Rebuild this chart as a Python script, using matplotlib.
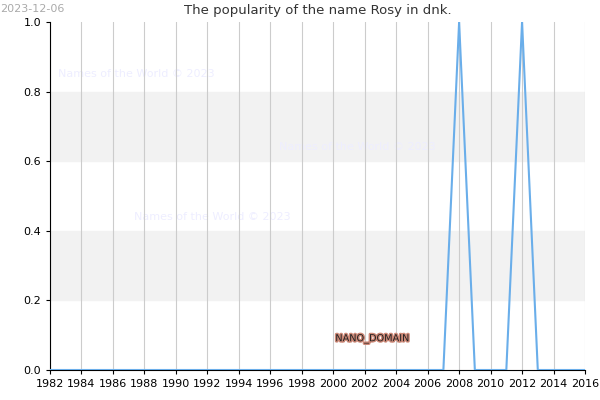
import matplotlib
matplotlib.use("Agg")
import matplotlib.pyplot as plt
import matplotlib.patheffects as pe

years = list(range(1982, 2017))
values = [0.0]*len(years)
values[years.index(2008)] = 1.0
values[years.index(2012)] = 1.0
xticks = list(range(1982, 2017, 2))
yticks = [0.0, 0.2, 0.4, 0.6, 0.8, 1.0]

fig = plt.figure(figsize=(6, 4), dpi=100)
ax = fig.add_axes([50/600, 30/400, 535/600, 348/400])
for lo, hi in [(0.2, 0.4), (0.6, 0.8)]:
    ax.axhspan(lo, hi, color="#f2f2f2", zorder=0)
ax.plot(years, values, color="#6aaeea", lw=1.5, zorder=3)
ax.set_xlim(1982, 2016)
ax.set_ylim(0, 1)
ax.set_xticks(xticks)
ax.set_yticks(yticks)
ax.set_yticklabels([f"{v:.1f}" for v in yticks])
ax.grid(axis="x", color="#cccccc", lw=0.8)
ax.tick_params(labelsize=8, length=3)
for s in ["top", "right"]:
    ax.spines[s].set_visible(False)
ax.set_title("The popularity of the name Rosy in dnk.", fontsize=9.5, color="#333333")
fig.text(0.0, 0.99, "2023-12-06", fontsize=8, color="#aaaaaa", va="top")
for x, y in [(1987.5, 0.85), (2001.5, 0.64), (1992.3, 0.44)]:
    ax.text(x, y, "Names of the World © 2023", fontsize=8, color="#eeeeff", ha="center", va="center", zorder=1)
ax.text(2002.5, 0.09, "NANO_DOMAIN", fontsize=7, color="#222222", ha="center", va="center",
        path_effects=[pe.withStroke(linewidth=2, foreground="#cc8877")], zorder=4)
fig.savefig("out.png")
